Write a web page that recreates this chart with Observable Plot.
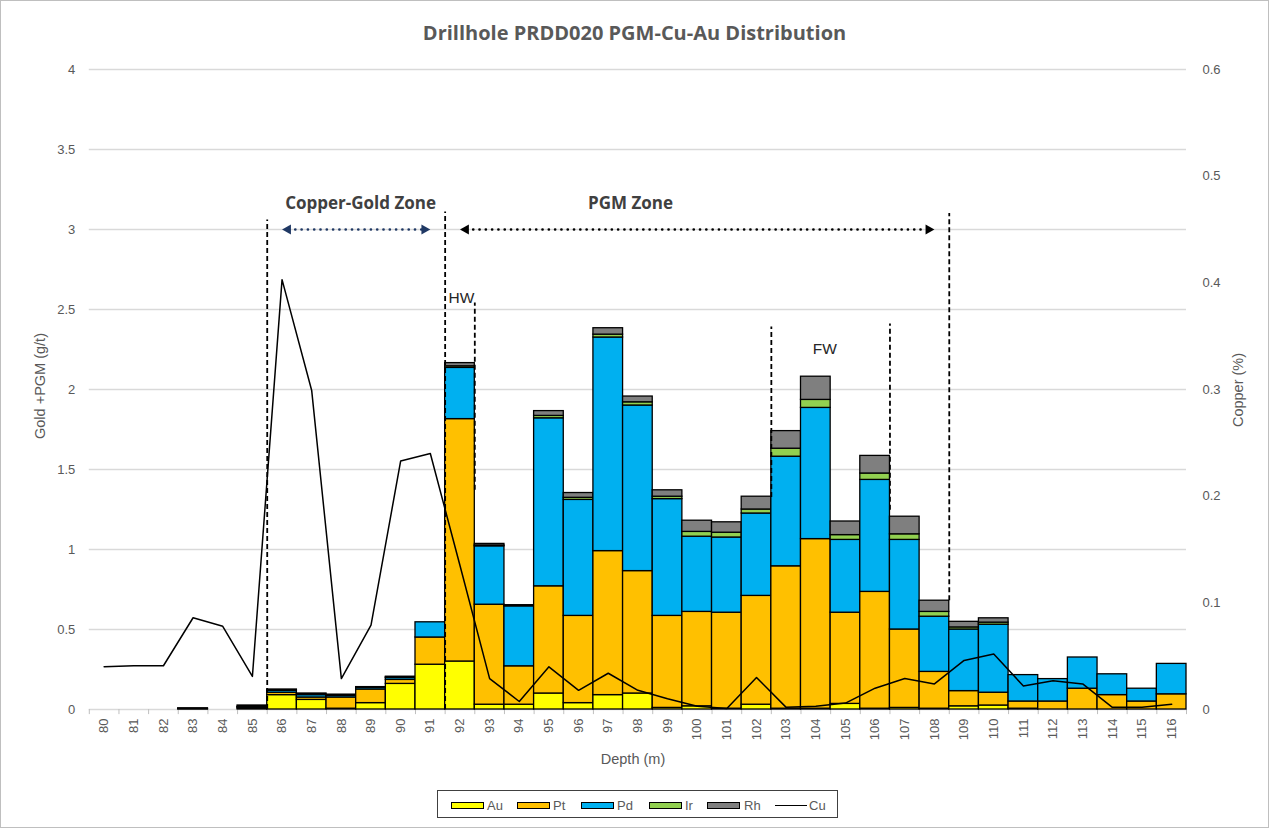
<!DOCTYPE html>
<html><head><meta charset="utf-8">
<script src="https://cdn.jsdelivr.net/npm/d3@7"></script>
<script src="https://cdn.jsdelivr.net/npm/@observablehq/plot@0.6"></script>
<style>
body{margin:0;background:#fff;}
#wrap{position:relative;width:1269px;height:828px;overflow:hidden;font-family:"Liberation Sans",Arial,sans-serif;background:#fff;}
#wrap svg{position:absolute;left:0;top:0;}
#border{position:absolute;left:0;top:0;width:1269px;height:828px;box-sizing:border-box;border:1px solid #bfbfbf;pointer-events:none;}
#title{position:absolute;top:19px;left:0;width:1269px;text-align:center;font:bold 20px "Open Sans",sans-serif;color:#595959;}
.alab{position:absolute;font-size:14.5px;color:#595959;white-space:nowrap;transform:translate(-50%,-50%);}
.rot{transform:translate(-50%,-50%) rotate(-90deg);}
#legend{position:absolute;left:437px;top:790px;width:401px;height:28px;box-sizing:border-box;border:1px solid #404040;background:#fff;}
.sw{position:absolute;top:802px;width:33px;height:7px;box-sizing:border-box;border:1px solid #000;}
.lt{position:absolute;top:798px;font-size:13px;color:#595959;line-height:16px;}
</style>
</head><body>
<div id="wrap">
  <div id="chart"></div>
  <div id="title">Drillhole PRDD020 PGM-Cu-Au Distribution</div>
  <div class="alab rot" style="left:40px;top:386px;">Gold +PGM (g/t)</div>
  <div class="alab rot" style="left:1238px;top:390px;">Copper (%)</div>
  <div class="alab" style="left:633px;top:759px;">Depth (m)</div>
  <div id="legend"></div>
  <div class="sw" style="left:451px;background:#FFFF00"></div><div class="lt" style="left:487px">Au</div>
  <div class="sw" style="left:517px;background:#FFC000"></div><div class="lt" style="left:553px">Pt</div>
  <div class="sw" style="left:581px;background:#00B0F0"></div><div class="lt" style="left:617px">Pd</div>
  <div class="sw" style="left:649px;background:#92D050"></div><div class="lt" style="left:685px">Ir</div>
  <div class="sw" style="left:707px;background:#7F7F7F"></div><div class="lt" style="left:744px">Rh</div>
  <div style="position:absolute;left:775px;top:805px;width:32px;height:0;border-top:1.5px solid #000;"></div><div class="lt" style="left:809px">Cu</div>
  <div id="border"></div>
</div>
<script>
// ---- data ----
const depths = [80,81,82,83,84,85,86,87,88,89,90,91,92,93,94,95,96,97,98,99,100,101,102,103,104,105,106,107,108,109,110,111,112,113,114,115,116];
const elements = ["Au","Pt","Pd","Ir","Rh"];
const elementColors = ["#FFFF00","#FFC000","#00B0F0","#92D050","#7F7F7F"];
const au = [0,0,0,0.002,0,0.006, 0.09,0.06,0.005,0.04,0.16,0.28, 0.30,0.03,0.03,0.10,0.04,0.09,0.10,0.01,0.02,0.005,0.03,0.005,0.005,0.035,0.005,0.01,0.005,0.02,0.025,0.005,0,0,0,0,0];
const pt = [0,0,0,0.002,0,0.005, 0.015,0.015,0.07,0.085,0.025,0.17, 1.515,0.625,0.24,0.67,0.545,0.90,0.765,0.575,0.59,0.60,0.68,0.89,1.06,0.57,0.73,0.49,0.23,0.095,0.08,0.045,0.05,0.13,0.09,0.05,0.095];
const pd = [0,0,0,0.001,0,0.004, 0.012,0.015,0.01,0.01,0.012,0.095, 0.32,0.365,0.375,1.05,0.725,1.335,1.035,0.73,0.47,0.47,0.515,0.685,0.82,0.455,0.70,0.56,0.345,0.385,0.425,0.165,0.14,0.195,0.13,0.08,0.19];
const ir = [0,0,0,0,0,0.002, 0.003,0.003,0.003,0.002,0.003,0, 0.01,0.005,0.002,0.015,0.013,0.018,0.02,0.015,0.03,0.03,0.025,0.05,0.05,0.03,0.04,0.035,0.03,0.013,0.013,0,0,0,0,0,0];
const rh = [0,0,0,0.002,0,0.008, 0.005,0.007,0.005,0.003,0.005,0, 0.02,0.01,0.005,0.03,0.03,0.04,0.036,0.04,0.07,0.065,0.08,0.11,0.145,0.085,0.11,0.11,0.07,0.035,0.027,0,0,0,0,0,0];
const cu = [0.040,0.041,0.041,0.086,0.078,0.031,0.403,0.299,0.029,0.079,0.233,0.240,0.135,0.029,0.0075,0.040,0.018,0.034,0.018,0.010,0.003,0.001,0.030,0.002,0.003,0.006,0.020,0.029,0.024,0.046,0.052,0.022,0.027,0.024,0.002,0.002,0.005];
const yTicks = [0,0.5,1,1.5,2,2.5,3,3.5,4];
const cuTicks = [0,0.1,0.2,0.3,0.4,0.5,0.6];
const cuMax = 0.6, yMax = 4;
// zone annotations (depth, g/t on left axis)
const zoneLineX = [85.5, 91.5, 92.5, 102.5, 106.5, 108.5];
const zoneLineTop = [3.06, 3.11, 2.54, 2.39, 2.41, 3.1];
const zoneLineBottom = [0, 0, 1.37, 1.325, 1.245, 0.68];
const zoneNames = ["Copper-Gold Zone", "PGM Zone"];
const zoneFrom = [86.0, 92.0];
const zoneTo = [91.0, 108.0];
const zoneNameX = [88.65, 97.75];
const zoneColors = ["#1F3864", "#000000"];
const wallLabels = ["HW", "FW"];
const wallX = [92.05, 104.3];
const wallY = [2.57, 2.25];

// ---- build tables ----
const series = [au, pt, pd, ir, rh];
const rows = [];
depths.forEach((d, i) => elements.forEach((el, j) => {
  const v = series[j][i];
  if (v > 0) rows.push({depth: d, el, value: v});
}));
const k = yMax / cuMax;
const cuRows = depths.map((d, i) => ({depth: d, cu: cu[i]}));
const boundaries = depths.map(d => d - 0.5).concat([depths[depths.length - 1] + 0.5]);
const zoneLines = zoneLineX.map((x, i) => ({x, y1: zoneLineBottom[i], y2: zoneLineTop[i]}));
const arrows = zoneNames.map((n, i) => ({name: n, from: zoneFrom[i], to: zoneTo[i], nx: zoneNameX[i], color: zoneColors[i]}));
const heads = arrows.flatMap(a => [
  {x: a.from + 0.2, rot: -90, color: a.color},
  {x: a.to - 0.2, rot: 90, color: a.color}
]);
const walls = wallLabels.map((t, i) => ({t, x: wallX[i], y: wallY[i]}));

const chart = Plot.plot({
  width: 1269, height: 828,
  marginLeft: 88.8, marginRight: 83, marginTop: 69, marginBottom: 119,
  x: {type: "linear", domain: [79.5, 116.5]},
  y: {domain: [0, yMax]},
  color: {domain: elements, range: elementColors},
  style: {fontFamily: "Liberation Sans, Arial, sans-serif", fontSize: "13px", color: "#595959", background: "transparent"},
  marks: [
    Plot.ruleY(yTicks, {stroke: "#d9d9d9", strokeWidth: 1.3}),
    Plot.ruleX(boundaries, {y1: 0, y2: -0.032, stroke: "#bfbfbf", strokeWidth: 1}),
    Plot.axisY(yTicks, {tickSize: 0, tickPadding: 14, label: null, tickFormat: d => String(d)}),
    Plot.axisY(cuTicks.map(v => v * k), {anchor: "right", tickSize: 0, tickPadding: 16, label: null, tickFormat: (d, i) => String(cuTicks[i])}),
    Plot.axisX(depths, {tickSize: 0, tickRotate: -90, tickPadding: 9, label: null, tickFormat: d => String(d)}),
    Plot.rectY(rows, Plot.stackY({x1: d => d.depth - 0.5, x2: d => d.depth + 0.5, y: "value", fill: "el", stroke: "#000", strokeWidth: 1.3})),
    Plot.line(cuRows, {x: "depth", y: d => d.cu * k, stroke: "#000", strokeWidth: 1.5}),
    Plot.ruleX(zoneLines, {x: "x", y1: "y1", y2: "y2", stroke: "#000", strokeWidth: 1.8, strokeDasharray: "5,3"}),
    Plot.ruleY(arrows, {y: 3, x1: d => d.from + 0.25, x2: d => d.to - 0.25, stroke: "color", strokeWidth: 2.6, strokeDasharray: "0.1,6.2", strokeLinecap: "round"}),
    Plot.dot(heads, {x: "x", y: 3, symbol: "triangle", r: 3.8, rotate: "rot", fill: "color", stroke: "none"}),
    Plot.text(arrows, {x: "nx", y: 3.16, text: "name", fontSize: 17, fontWeight: "bold", fill: "#404040", fontFamily: "Open Sans, sans-serif"}),
    Plot.text(walls, {x: "x", y: "y", text: "t", fontSize: 15.5, fill: "#262626"})
  ]
});
document.getElementById("chart").appendChild(chart);
</script>
</body></html>
